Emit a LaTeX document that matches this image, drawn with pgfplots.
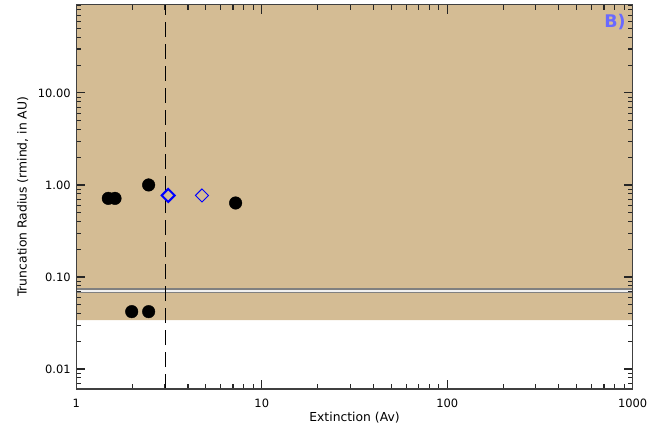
\documentclass[border=0pt]{standalone}
\usepackage{fontspec}
\setmainfont{DejaVu Sans}
\usepackage{pgfplots}
\pgfplotsset{compat=1.18}
\definecolor{tanbg}{RGB}{212,188,148}
\definecolor{labblue}{RGB}{105,105,255}
\definecolor{midgray}{RGB}{128,128,128}
\begin{document}
\begin{tikzpicture}
\useasboundingbox (-76.3bp,-44bp) rectangle (595.7bp,389bp);
\begin{axis}[at={(0,0)}, anchor=south west, scale only axis,
 width=556.4bp, height=384.3bp,
 xmode=log, ymode=log, xmin=1, xmax=1000, ymin=0.00606, ymax=91,
 axis on top,
 axis line style={black!75, line width=1.3bp},
 tick style={black!85, line width=1.1bp},
 tick align=inside, major tick length=9bp, minor tick length=5bp,
 xtick={1,10,100,1000}, xticklabels={1,10,100,1000},
 ytick={0.01,0.1,1,10}, yticklabels={0.01,0.10,1.00,10.00},
 minor xtick={2,3,4,5,6,7,8,9,20,30,40,50,60,70,80,90,200,300,400,500,600,700,800,900},
 minor ytick={0.007,0.008,0.009,0.02,0.03,0.04,0.05,0.06,0.07,0.08,0.09,0.2,0.3,0.4,0.5,0.6,0.7,0.8,0.9,2,3,4,5,6,7,8,9,20,30,40,50,60,70,80,90},
 ticklabel style={font=\fontsize{11.5}{13}\selectfont, inner sep=0pt},
 xticklabel style={yshift=-10bp},
 yticklabel style={xshift=-5.5bp},
 xlabel={Extinction (Av)}, ylabel={Truncation Radius (rmind, in AU)},
 every axis x label/.style={at={(axis description cs:0.5,0)}, anchor=center, yshift=-29bp, font=\fontsize{12.4}{14}\selectfont},
 every axis y label/.style={at={(axis description cs:-0.0962,0.5)}, anchor=center, rotate=90, font=\fontsize{12.4}{14}\selectfont},
]
% background region
\addplot[fill=tanbg, draw=none, forget plot] coordinates {(1,0.034) (1000,0.034) (1000,200) (1,200) (1,0.034)};
% horizontal double line
\addplot[midgray, line width=5.5bp, forget plot] coordinates {(1,0.071) (1000,0.071)};
\addplot[white!88!gray, line width=2bp, forget plot] coordinates {(1,0.071) (1000,0.071)};
% vertical dashed line
\addplot[black, line width=1.3bp, dash pattern=on 15bp off 7bp, forget plot] coordinates {(3.02,0.00606) (3.02,91)};
% black dots
\addplot[only marks, mark=*, mark size=6.3bp, black, forget plot] coordinates {
 (1.488,0.715) (1.617,0.715) (2.455,1.0) (7.23,0.637) (1.99,0.042) (2.455,0.042)};
% blue diamonds
\addplot[only marks, mark=square, mark size=4.6bp, mark options={rotate=45}, blue, line width=2bp, forget plot] coordinates {(3.13,0.77)};
\addplot[only marks, mark=square, mark size=4.6bp, mark options={rotate=45}, blue, line width=0.9bp, forget plot] coordinates {(4.76,0.77)};
\node[font=\bfseries\fontsize{17.5}{20}\selectfont, text=labblue] at (rel axis cs:0.968,0.955) {B)};
\end{axis}
\end{tikzpicture}
\end{document}
